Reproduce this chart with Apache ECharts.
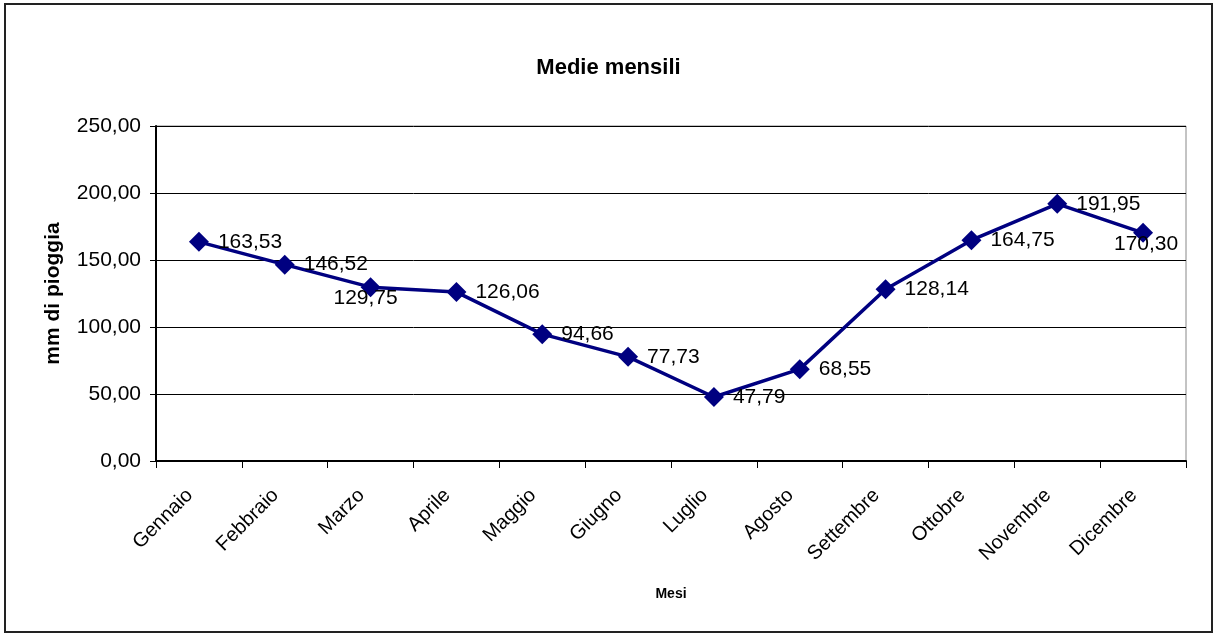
<!DOCTYPE html>
<html>
<head>
<meta charset="utf-8">
<script src="https://cdn.jsdelivr.net/npm/echarts@6/dist/echarts.min.js"></script>
<style>
  html, body { margin: 0; padding: 0; background: #fff; }
  #chart { width: 1217px; height: 636px; }
</style>
</head>
<body>
<div id="chart"></div>
<script>
const months = ["Gennaio", "Febbraio", "Marzo", "Aprile", "Maggio", "Giugno", "Luglio", "Agosto", "Settembre", "Ottobre", "Novembre", "Dicembre"];
const rainfall = [163.53, 146.52, 129.75, 126.06, 94.66, 77.73, 47.79, 68.55, 128.14, 164.75, 191.95, 170.30];
// labels that sit under the marker instead of to its right
const labelShift = { Marzo: [-5, -9], Dicembre: [3, -9] };

const fmt = (v) => v.toFixed(2).replace(".", ",");

const chart = echarts.init(document.getElementById("chart"));
const font = "Liberation Sans, Arial, sans-serif";

const option = {
  animation: false,
  backgroundColor: "#fff",
  textStyle: { fontFamily: font },
  graphic: [
    {
      type: "rect",
      shape: { x: 5, y: 4, width: 1207, height: 628 },
      style: { fill: "none", stroke: "#222", lineWidth: 2 },
    },
  ],
  title: {
    text: "Medie mensili",
    left: "center",
    top: 52,
    textStyle: { fontSize: 22, fontWeight: "bold", color: "#000", fontFamily: font },
  },
  grid: {
    left: 156,
    right: 31,
    top: 126,
    bottom: 175,
    show: true,
    borderColor: "#888",
    borderWidth: 1,
    containLabel: false,
  },
  xAxis: {
    type: "category",
    data: months,
    boundaryGap: true,
    name: "Mesi",
    nameLocation: "middle",
    nameGap: 126,
    nameTextStyle: { fontSize: 14, fontWeight: "bold", color: "#000" },
    axisLine: { lineStyle: { color: "#000", width: 2 } },
    axisTick: { show: true, length: 7, lineStyle: { color: "#000" } },
    axisLabel: { rotate: 45, fontSize: 20, color: "#000", margin: 22, interval: 0, padding: [0, 13, 0, 0] },
  },
  yAxis: {
    type: "value",
    min: 0,
    max: 250,
    interval: 50,
    name: "mm di pioggia",
    nameLocation: "middle",
    nameGap: 92,
    nameTextStyle: { fontSize: 21, fontWeight: "bold", color: "#000" },
    axisLine: { show: true, lineStyle: { color: "#000", width: 2 } },
    axisTick: { show: true, length: 6, lineStyle: { color: "#000" } },
    axisLabel: { fontSize: 21, color: "#000", margin: 15, formatter: (v) => fmt(v) },
    splitLine: { show: true, lineStyle: { color: "#000", width: 1 } },
  },
  series: [
    {
      type: "line",
      data: rainfall.map((v, i) => {
        const shift = labelShift[months[i]];
        return {
          value: v,
          label: shift
            ? { position: "bottom", distance: 0, offset: shift }
            : { position: "right", distance: 9 },
        };
      }),
      symbol: "diamond",
      symbolSize: 20,
      lineStyle: { color: "#000080", width: 3.5 },
      itemStyle: { color: "#000080" },
      label: {
        show: true,
        fontSize: 21,
        color: "#000",
        formatter: (p) => fmt(p.value),
      },
    },
  ],
};

chart.setOption(option);
</script>
</body>
</html>
